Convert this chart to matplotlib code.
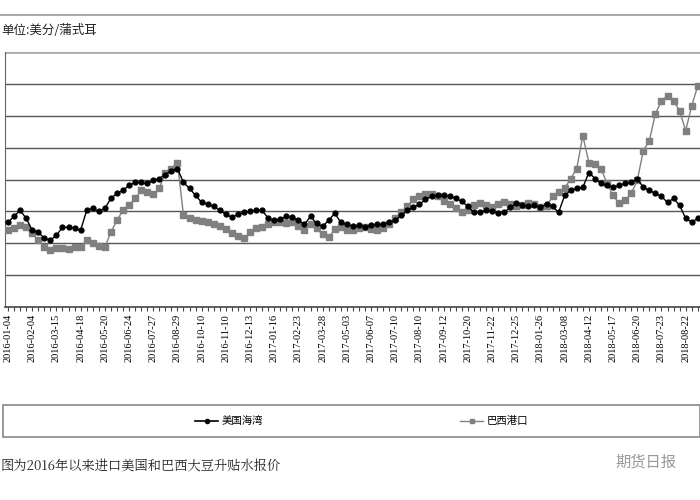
import matplotlib
matplotlib.use("Agg")
import matplotlib.pyplot as plt
from matplotlib.lines import Line2D
from matplotlib.patches import Rectangle

plt.rcParams['font.family'] = ['Noto Sans CJK SC', 'DejaVu Sans']

tick_labels = ["2016-01-04","2016-02-04","2016-03-15","2016-04-18","2016-05-20","2016-06-24",
               "2016-07-27","2016-08-29","2016-10-10","2016-11-10","2016-12-13","2017-01-16",
               "2017-02-23","2017-03-28","2017-05-03","2017-06-07","2017-07-10","2017-08-10",
               "2017-09-12","2017-10-20","2017-11-22","2017-12-25","2018-01-26","2018-03-08",
               "2018-04-12","2018-05-17","2018-06-20","2018-07-23","2018-08-22"]

us_gulf = [85,91,97,89,77,75,69,67,72,80,80,79,77,97,99,96,99,109,114,117,122,125,125,124,127,129,133,137,139,
           125,119,112,105,103,101,97,93,90,93,95,96,97,97,89,87,88,91,90,87,83,91,84,81,87,94,85,83,81,82,80,
           82,83,83,85,87,92,97,100,103,108,111,112,112,111,109,106,101,95,95,97,96,94,95,100,104,102,101,102,
           100,103,101,95,112,117,119,120,135,129,124,122,120,122,124,125,129,120,117,114,111,105,109,102,89,85,89]
brazil = [77,79,82,80,74,67,60,57,59,59,58,60,60,67,64,61,60,75,87,97,102,109,117,115,113,119,135,139,145,
          92,89,87,86,85,83,81,78,74,71,69,75,79,80,83,85,85,84,85,81,77,83,79,73,70,78,80,77,77,79,80,78,77,
          79,83,89,95,101,108,111,113,113,111,106,103,99,95,97,102,104,102,100,103,105,103,101,102,104,103,100,
          101,111,115,119,129,139,172,145,144,139,124,112,104,107,114,127,157,167,194,207,212,207,197,177,202,222]

fig = plt.figure(figsize=(7, 5), dpi=100)
ax = fig.add_axes([5/700, 193/500, 697/700, 255/500])

xs_us = list(range(len(us_gulf)))
xs_br = list(range(len(brazil)))
ax.plot(xs_br, brazil, color='#808080', lw=1.0, marker='s', ms=4.5, mec='#808080', mfc='#808080', zorder=3)
ax.plot(xs_us, us_gulf, color='black', lw=1.0, marker='o', ms=3.5, zorder=4)

ax.set_xlim(-0.5, len(us_gulf) - 0.3)
ax.set_ylim(0, 256)
ax.set_yticks(range(32, 256, 32))
ax.yaxis.grid(True, color='#555555', lw=1.0)
ax.set_axisbelow(True)
ax.tick_params(axis='y', left=False, labelleft=False)
ax.set_xticks([4 * i for i in range(len(tick_labels))])
ax.set_xticklabels(tick_labels, rotation=90, fontsize=7.5, family=['Liberation Serif', 'DejaVu Serif'])
ax.set_xticks(range(len(us_gulf)), minor=True)
ax.tick_params(axis='x', which='both', length=3, width=0.8, color='#444444', pad=2)
for s in ['top', 'right']:
    ax.spines[s].set_visible(False)
ax.spines['left'].set_color('#666666')
ax.spines['bottom'].set_color('#444444')
ax.spines['bottom'].set_linewidth(1.2)
ax.axhline(256, color='#aaaaaa', lw=2)

fig.add_artist(Line2D([0, 1], [1 - 15/500, 1 - 15/500], color='#999999', lw=1.2))
fig.text(1/700, 1 - 30/500, "单位:美分/蒲式耳", fontsize=9, va='center', ha='left', color='#222222')

fig.add_artist(Rectangle((3/700, 1 - 437/500), 697/700, 32/500, fill=False, ec='#888888', lw=1.2))
ly = 1 - 421/500
fig.add_artist(Line2D([195/700, 218/700], [ly, ly], color='black', lw=1.2))
fig.add_artist(Line2D([206.5/700], [ly], color='black', marker='o', ms=3))
fig.text(222/700, ly, "美国海湾", fontsize=7.5, va='center')
fig.add_artist(Line2D([460/700, 483/700], [ly, ly], color='#808080', lw=1.0))
fig.add_artist(Line2D([471.5/700], [ly], color='#808080', marker='s', ms=3))
fig.text(487/700, ly, "巴西港口", fontsize=7.5, va='center')

fig.text(0, 1 - 466/500, "图为2016年以来进口美国和巴西大豆升贴水报价", fontsize=9.5, va='center',
         family=['Noto Serif CJK SC', 'Noto Sans CJK SC', 'DejaVu Sans'], color='#222222')
fig.text(615/700, 1 - 462/500, "期货日报", fontsize=11, va='center', color='#999999')

fig.savefig("out.png", dpi=100)
